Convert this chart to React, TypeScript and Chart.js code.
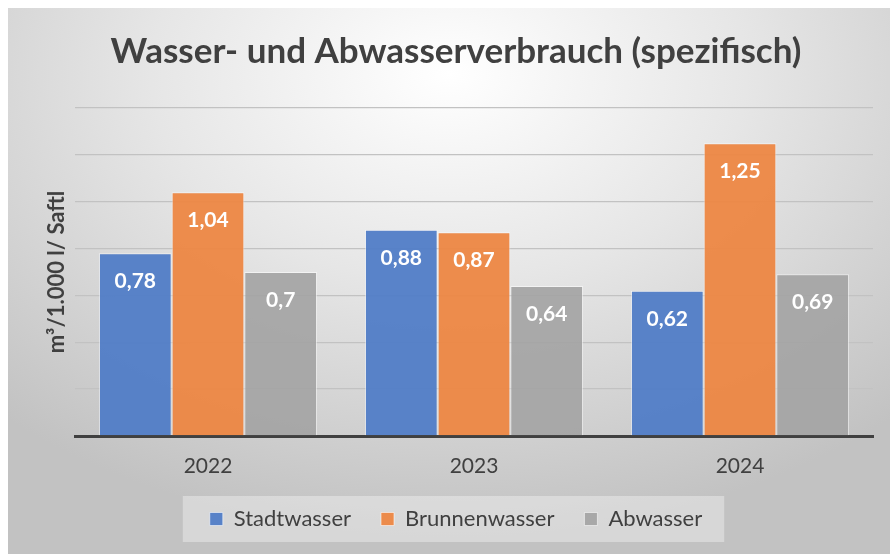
import React, { useEffect, useRef } from "react";
import { Chart, registerables } from "chart.js";

Chart.register(...registerables);

const categories = ["2022", "2023", "2024"];
const seriesNames = ["Stadtwasser", "Brunnenwasser", "Abwasser"];
const stadtwasser = [0.78, 0.88, 0.62];
const brunnenwasser = [1.04, 0.87, 1.25];
const abwasser = [0.7, 0.64, 0.69];
const yMin = 0;
const yMax = 1.4;
const yStep = 0.2;

const FONT = "Lato, 'Open Sans', sans-serif";
const TEXT = "#404040";

const valueLabels = {
  id: "valueLabels",
  afterDatasetsDraw(chart: any) {
    const ctx = chart.ctx;
    ctx.save();
    ctx.fillStyle = "#ffffff";
    ctx.font = `bold 21px ${FONT}`;
    ctx.textAlign = "center";
    ctx.textBaseline = "middle";
    chart.data.datasets.forEach((ds: any, i: number) => {
      const meta = chart.getDatasetMeta(i);
      meta.data.forEach((bar: any, j: number) => {
        const v = ds.data[j];
        ctx.fillText(String(v).replace(".", ","), bar.x, bar.y + 28);
      });
    });
    ctx.restore();
  },
};

const legendBox = {
  id: "legendBox",
  beforeDraw(chart: any) {
    const lg = chart.legend;
    if (!lg || !lg.legendHitBoxes || !lg.legendHitBoxes.length) return;
    const boxes = lg.legendHitBoxes;
    let l = Infinity, r = -Infinity, c = 0;
    boxes.forEach((h: any) => {
      l = Math.min(l, h.left);
      r = Math.max(r, h.left + h.width);
      c += h.top + h.height / 2;
    });
    c /= boxes.length;
    const ctx = chart.ctx;
    ctx.save();
    ctx.fillStyle = "rgba(255,255,255,0.35)";
    ctx.fillRect(l - 27, c - 23, r - l + 49, 46);
    ctx.restore();
  },
};

export default function App() {
  const ref = useRef<HTMLCanvasElement>(null);
  useEffect(() => {
    if (!ref.current) return;
    const chart = new Chart(ref.current, {
      type: "bar",
      data: {
        labels: categories,
        datasets: [
          {
            label: seriesNames[0],
            data: stadtwasser,
            backgroundColor: "rgba(80,124,199,0.94)",
            borderColor: "rgba(255,255,255,0.55)",
            borderWidth: 1,
          },
          {
            label: seriesNames[1],
            data: brunnenwasser,
            backgroundColor: "rgba(237,134,66,0.94)",
            borderColor: "rgba(255,255,255,0.55)",
            borderWidth: 1,
          },
          {
            label: seriesNames[2],
            data: abwasser,
            backgroundColor: "rgba(164,164,164,0.92)",
            borderColor: "rgba(255,255,255,0.55)",
            borderWidth: 1,
          },
        ],
      },
      options: {
        animation: false,
        responsive: true,
        maintainAspectRatio: false,
        layout: { padding: { left: 31, right: 17, top: 0, bottom: 16 } },
        datasets: { bar: { categoryPercentage: 0.82, barPercentage: 1.0 } },
        scales: {
          x: {
            grid: { display: false, drawTicks: false },
            border: { display: true, color: "#404040", width: 3 },
            ticks: { color: TEXT, font: { family: FONT, size: 21 }, padding: 18 },
            afterFit(scale: any) {
              scale.height = 42;
            },
          },
          y: {
            min: yMin,
            max: yMax,
            ticks: { stepSize: yStep, display: false },
            grid: { color: "#c2c2c2", lineWidth: 1.3, drawTicks: false },
            border: { display: false },
            title: {
              display: true,
              text: "m³/1.000 l/ Saftl",
              color: TEXT,
              font: { family: FONT, size: 22, weight: "bold" },
              padding: { top: 5, bottom: 0 },
            },
            afterFit(scale: any) {
              scale.width = 36;
            },
          },
        },
        plugins: {
          title: {
            display: true,
            text: "Wasser- und Abwasserverbrauch (spezifisch)",
            color: TEXT,
            font: { family: FONT, size: 35, weight: "bold" },
            padding: { top: 23, bottom: 35 },
          },
          legend: {
            position: "bottom",
            maxHeight: 60,
            labels: {
              color: TEXT,
              font: { family: FONT, size: 22 },
              boxWidth: 13,
              boxHeight: 13,
              padding: 30,
            },
          },
          tooltip: { enabled: false },
        },
      },
      plugins: [valueLabels, legendBox],
    });
    return () => chart.destroy();
  }, []);

  return (
    <div
      style={{
        position: "fixed",
        left: 8,
        top: 8,
        width: 882,
        height: 546,
        background:
          "radial-gradient(ellipse 75% 85% at 50% 12%, #ffffff 0%, #e6e6e6 45%, #c2c2c2 100%)",
      }}
    >
      <canvas ref={ref} />
    </div>
  );
}
